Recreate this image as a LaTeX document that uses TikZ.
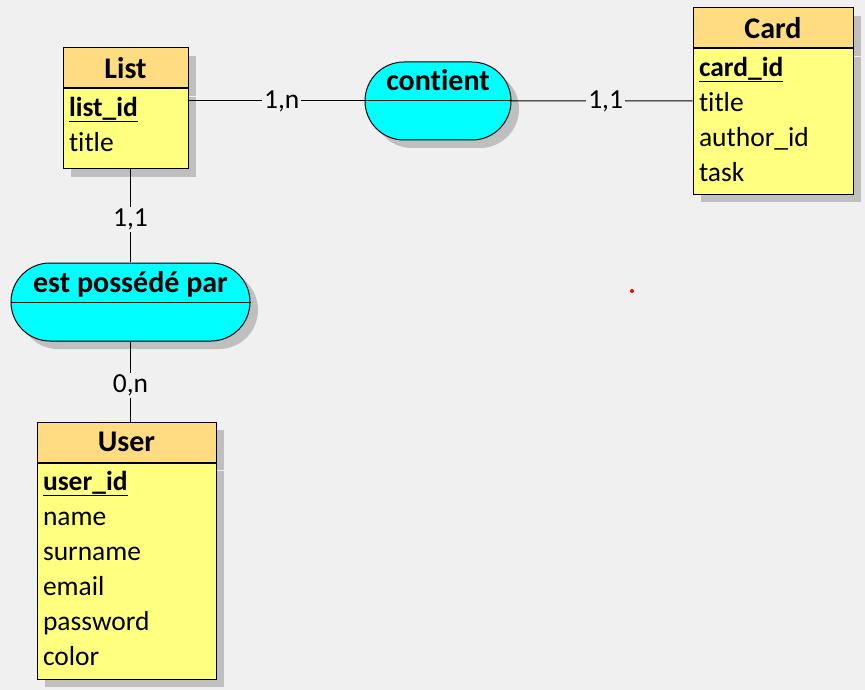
\documentclass[tikz,border=0pt]{standalone}
\usepackage{fontspec}
\setmainfont{Carlito}[Ligatures=NoCommon]
\usetikzlibrary{positioning,shapes.misc,shadows}
\definecolor{bgcol}{HTML}{F0F0F0}
\definecolor{headcol}{HTML}{FFDC82}
\definecolor{bodycol}{HTML}{FFFF80}
\definecolor{relcol}{HTML}{00FFFF}
\newcommand{\keyattr}[1]{\setbox0\hbox{\textbf{#1}}\rlap{\rule[-6pt]{\wd0}{1.5pt}}\box0}

\begin{document}
\begin{tikzpicture}[x=1pt,y=-1pt,line width=1pt,
  boxshadow/.style={drop shadow={shadow xshift=8pt,shadow yshift=-8pt,fill=black!25,opacity=1}},
  head/.style={draw,fill=headcol,boxshadow,inner sep=0pt,minimum height=40pt,font=\fontsize{30}{36}\selectfont\bfseries},
  body/.style={draw,fill=bodycol,boxshadow,inner sep=0pt},
  attrs/.style={anchor=north west,align=left,inner xsep=6pt,inner ysep=8pt,font=\fontsize{27.5}{35}\selectfont},
  rel/.style={rounded rectangle,draw,fill=relcol,boxshadow,inner sep=0pt,minimum height=78pt},
  rellbl/.style={anchor=base,font=\fontsize{30}{36}\selectfont\bfseries},
  cardlbl/.style={fill=bgcol,inner sep=2pt,font=\fontsize{27.5}{33}\selectfont}]
\fill[bgcol] (0,0) rectangle (865,690);

\node[head,minimum width=125pt] (listh) at (125.5,68) {List};
\node[body,minimum width=125pt,minimum height=80pt,below=0pt of listh] (listb) {};
\node[attrs] (lista) at (listb.north west) {\keyattr{list\_id}\\title};

\node[head,minimum width=160pt] (cardh) at (773,28) {Card};
\node[body,minimum width=160pt,minimum height=145pt,below=0pt of cardh] (cardb) {};
\node[attrs] (carda) at (cardb.north west) {\keyattr{card\_id}\\title\\author\_id\\task};

\node[head,minimum width=179pt] (userh) at (126.5,442) {User};
\node[body,minimum width=179pt,minimum height=216pt,below=0pt of userh] (userb) {};
\node[attrs] (usera) at (userb.north west) {\keyattr{user\_id}\\name\\surname\\email\\password\\color};

\node[rel,minimum width=146pt] (contient) at (438,101) {};
\draw (contient.west) -- (contient.east);
\node[rellbl] (contientl) at ([yshift=10pt]contient.center) {contient};

\node[rel,minimum width=239pt] (possede) at (130.5,302) {};
\draw (possede.west) -- (possede.east);
\node[rellbl] (possedel) at ([yshift=10pt]possede.center) {est possédé par};

\draw (contient) -- node[cardlbl,pos=0.47] (lc) {1,n} (contient -| listb.east);
\draw (contient) -- node[cardlbl,pos=0.52] (cc) {1,1} (contient -| cardb.west);
\draw (possede) -- node[cardlbl,pos=0.46] (lp) {1,1} (possede |- listb.south);
\draw (possede) -- node[cardlbl,pos=0.55] (up) {0,n} (possede |- userh.north);

\fill[red] (632,291) circle (2pt);
\end{tikzpicture}
\end{document}
